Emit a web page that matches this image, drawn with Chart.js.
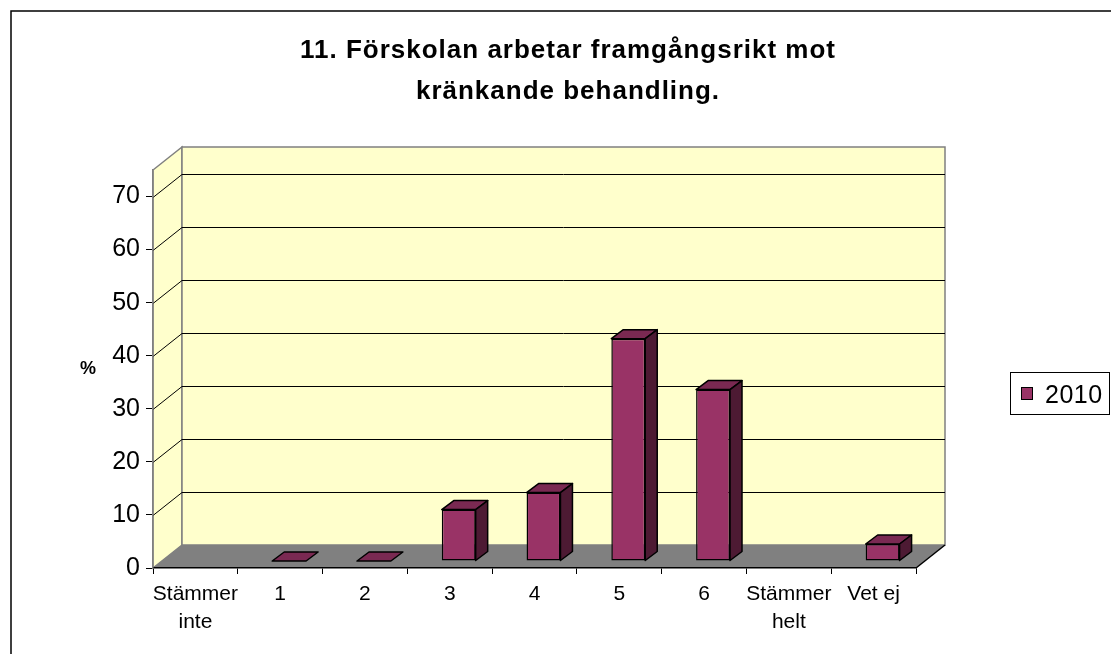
<!DOCTYPE html>
<html>
<head>
<meta charset="utf-8">
<script src="https://cdn.jsdelivr.net/npm/chart.js@4/dist/chart.umd.min.js"></script>
<style>
  html, body { margin: 0; padding: 0; background: #fff; }
  #wrap { width: 1111px; height: 654px; position: relative; }
</style>
</head>
<body>
<div id="wrap"><canvas id="chart" width="1111" height="654"></canvas></div>
<script>
// data
const categories = [['Stämmer', 'inte'], '1', '2', '3', '4', '5', '6', ['Stämmer', 'helt'], 'Vet ej'];
const values2010 = [null, 0, 0, 9.7, 12.9, 41.9, 32.3, null, 3.2];
const seriesLabel = '2010';
const yTickValues = [0, 10, 20, 30, 40, 50, 60, 70];
const titleLines = ['11. Förskolan arbetar framgångsrikt mot', 'kränkande behandling.'];
const yTitle = '%';

const FONT = '"Liberation Sans", Arial, sans-serif';
const barFront = '#993366';
const barTop = '#7a2952';
const barSide = '#4d1a33';
const wallFill = '#ffffcc';
const floorFill = '#808080';

// depth of the whole box and of one bar
const depth = { x: 29, y: -23 };
const barShift = { x: 9, y: -7 };
const barDepth = { x: 12, y: -9 };

function poly(ctx, pts, fill, stroke, lw) {
  ctx.beginPath();
  ctx.moveTo(pts[0][0], pts[0][1]);
  for (let i = 1; i < pts.length; i++) ctx.lineTo(pts[i][0], pts[i][1]);
  ctx.closePath();
  if (fill) { ctx.fillStyle = fill; ctx.fill(); }
  if (stroke) { ctx.strokeStyle = stroke; ctx.lineWidth = lw || 1; ctx.stroke(); }
}

const box3d = {
  id: 'box3d',
  beforeDraw(chart) {
    const { ctx, chartArea: a, scales } = chart;
    const y = scales.y;
    const dx = depth.x, dy = depth.y;
    ctx.save();
    ctx.fillStyle = '#fff';
    ctx.fillRect(0, 0, chart.width, chart.height);

    // outer frame
    ctx.strokeStyle = '#000';
    ctx.lineWidth = 1.5;
    ctx.strokeRect(11, 11, chart.width + 10, chart.height + 10);

    // left wall
    poly(ctx, [[a.left, a.top], [a.left + dx, a.top + dy], [a.left + dx, a.bottom + dy], [a.left, a.bottom]], wallFill, '#808080', 1.5);
    // back wall
    poly(ctx, [[a.left + dx, a.top + dy], [a.right + dx, a.top + dy], [a.right + dx, a.bottom + dy], [a.left + dx, a.bottom + dy]], wallFill, '#808080', 1.5);

    // gridlines on walls
    ctx.strokeStyle = '#000';
    ctx.lineWidth = 1;
    y.ticks.forEach(t => {
      if (t.value === 0) return;
      const py = Math.round(y.getPixelForValue(t.value)) + 0.5;
      ctx.beginPath();
      ctx.moveTo(a.left, py);
      ctx.lineTo(a.left + dx, py + dy);
      ctx.lineTo(a.right + dx, py + dy);
      ctx.stroke();
    });

    // floor
    poly(ctx, [[a.left, a.bottom], [a.right, a.bottom], [a.right + dx, a.bottom + dy], [a.left + dx, a.bottom + dy]], floorFill, null);
    ctx.strokeStyle = '#000';
    ctx.lineWidth = 1.5;
    ctx.beginPath();
    ctx.moveTo(a.right, a.bottom);
    ctx.lineTo(a.right + dx, a.bottom + dy);
    ctx.stroke();
    ctx.restore();
  },
  beforeDatasetDraw(chart) {
    chart.ctx.save();
    chart.ctx.translate(barShift.x, barShift.y);
  },
  afterDatasetDraw(chart, args) {
    const ctx = chart.ctx;
    const data = chart.data.datasets[args.index].data;
    args.meta.data.forEach((el, i) => {
      if (data[i] === null || data[i] === undefined) return;
      const p = el.getProps(['x', 'y', 'base', 'width'], true);
      const l = p.x - p.width / 2, r = p.x + p.width / 2;
      const top = Math.min(p.y, p.base), bot = Math.max(p.y, p.base);
      const ex = barDepth.x, ey = barDepth.y;
      ctx.lineJoin = 'round';
      poly(ctx, [[l, top], [r, top], [r + ex, top + ey], [l + ex, top + ey]], barTop, '#000', 1.5);
      if (bot - top > 0.5) {
        poly(ctx, [[r, top], [r + ex, top + ey], [r + ex, bot + ey], [r, bot]], barSide, '#000', 1.5);
      }
    });
    ctx.restore();
  },
  afterDraw(chart) {
    const { ctx } = chart;
    ctx.save();
    // title
    ctx.fillStyle = '#000';
    ctx.textAlign = 'center';
    ctx.textBaseline = 'alphabetic';
    ctx.font = 'bold 26px ' + FONT;
    ctx.letterSpacing = '1px';
    ctx.fillText(titleLines[0], 568, 58);
    ctx.fillText(titleLines[1], 568, 99);
    ctx.letterSpacing = '0px';

    // y title
    ctx.font = 'bold 18px ' + FONT;
    ctx.textBaseline = 'middle';
    ctx.fillText(yTitle, 88, 369);

    // legend
    ctx.strokeStyle = '#000';
    ctx.lineWidth = 1;
    ctx.strokeRect(1010.5, 372.5, 99, 42);
    ctx.fillStyle = barFront;
    ctx.fillRect(1021, 387, 11, 12);
    ctx.strokeRect(1021.5, 387.5, 11, 12);
    ctx.fillStyle = '#000';
    ctx.textAlign = 'left';
    ctx.textBaseline = 'alphabetic';
    ctx.font = '25px ' + FONT;
    ctx.letterSpacing = '0.5px';
    ctx.fillText(seriesLabel, 1045, 403);
    ctx.restore();
  }
};

Chart.defaults.font.family = FONT;
Chart.defaults.color = '#000';

new Chart(document.getElementById('chart'), {
  type: 'bar',
  data: {
    labels: categories,
    datasets: [{
      label: seriesLabel,
      data: values2010,
      backgroundColor: barFront,
      borderColor: '#000',
      borderWidth: 1.5,
      borderSkipped: false,
      barPercentage: 0.4,
      categoryPercentage: 1,
      clip: false
    }]
  },
  options: {
    responsive: false,
    animation: false,
    layout: { padding: { top: 170, right: 195, left: 0, bottom: 0 } },
    plugins: {
      legend: { display: false },
      title: { display: false },
      tooltip: { enabled: false }
    },
    scales: {
      x: {
        afterFit(scale) { scale.height = 86; },
        grid: { offset: true, drawOnChartArea: false, tickLength: 6, color: '#000', lineWidth: 1 },
        border: { color: '#000', width: 1.5 },
        ticks: { font: { size: 21, lineHeight: 1.33 }, padding: 6, maxRotation: 0, autoSkip: false }
      },
      y: {
        min: 0,
        max: 75,
        afterFit(scale) { scale.width = 153; },
        afterBuildTicks(scale) { scale.ticks = yTickValues.map(v => ({ value: v })); },
        grid: { drawOnChartArea: false, tickLength: 7, color: '#000', lineWidth: 1 },
        border: { color: '#808080', width: 1.5 },
        ticks: { font: { size: 25 }, padding: 6 }
      }
    }
  },
  plugins: [box3d]
});
</script>
</body>
</html>
